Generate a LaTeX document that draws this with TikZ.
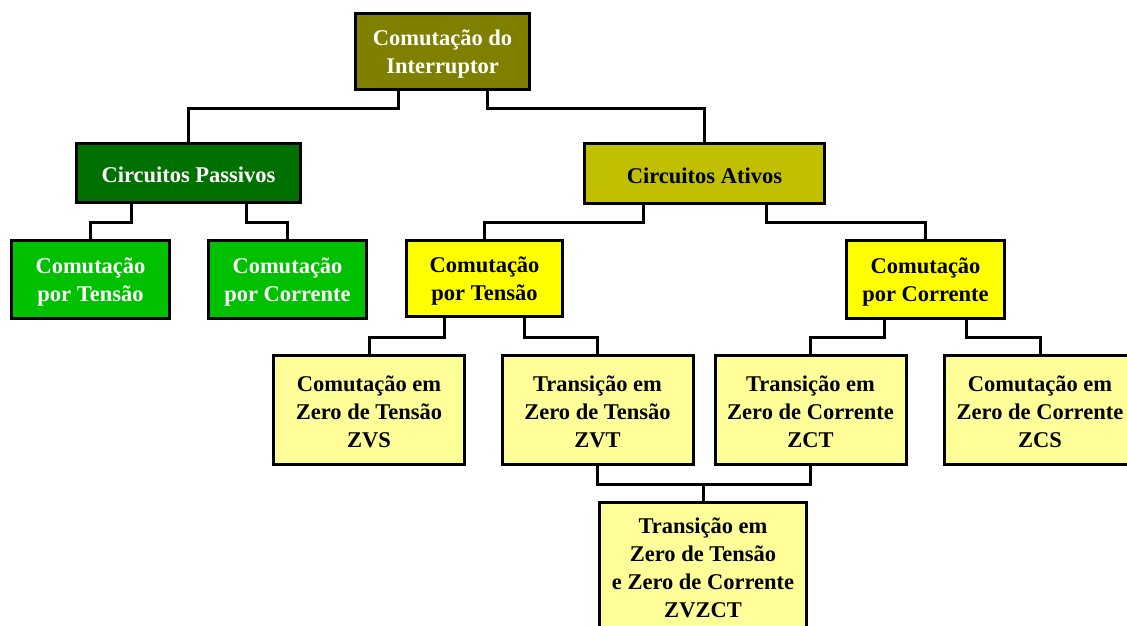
\documentclass[tikz,border=0pt]{standalone}
\usepackage{fontspec}
\setmainfont{Liberation Serif}
\usetikzlibrary{calc}
\definecolor{olivebox}{HTML}{808000}
\definecolor{darkgreenbox}{HTML}{007000}
\definecolor{greenbox}{HTML}{00C000}
\definecolor{ativobox}{HTML}{C0C000}
\definecolor{yellowbox}{HTML}{FFFF00}
\definecolor{lightbox}{HTML}{FFFF99}
\tikzset{
  box/.style={draw=black, line width=3pt, inner sep=0pt},
  txt/.style={inner sep=0pt, align=center,
    font=\fontsize{22.5}{28}\selectfont\bfseries},
  link/.style={draw=black, line width=3pt},
}
\begin{document}
\begin{tikzpicture}[x=1pt,y=-1pt]
\useasboundingbox (0,0) rectangle (1127,625);
\node[box, fill=olivebox, minimum width=174pt, minimum height=76pt] (top) at (442.5,51.5) {};
\node[txt, text=white] (ttop) at ($(top.center)+(0,3)$) {Comutação do\\Interruptor};
\node[box, fill=darkgreenbox, minimum width=224pt, minimum height=59pt] (pas) at (188.5,173) {};
\node[txt, text=white] (tpas) at ($(pas.center)+(0,2)$) {Circuitos Passivos};
\node[box, fill=ativobox, minimum width=240pt, minimum height=60pt] (ati) at (704.5,173.5) {};
\node[txt] (tati) at ($(ati.center)+(0,2)$) {Circuitos Ativos};
\node[box, fill=greenbox, minimum width=158pt, minimum height=78pt] (pt) at (90.5,279.5) {};
\node[txt, text=white] (tpt) at ($(pt.center)+(0,3)$) {Comutação\\por Tensão};
\node[box, fill=greenbox, minimum width=158pt, minimum height=78pt] (pc) at (287.5,279.5) {};
\node[txt, text=white] (tpc) at ($(pc.center)+(0,3)$) {Comutação\\por Corrente};
\node[box, fill=yellowbox, minimum width=156pt, minimum height=76pt] (at) at (484.5,278.5) {};
\node[txt] (tat) at ($(at.center)+(0,3)$) {Comutação\\por Tensão};
\node[box, fill=yellowbox, minimum width=158pt, minimum height=78pt] (ac) at (925.5,279.5) {};
\node[txt] (tac) at ($(ac.center)+(0,3)$) {Comutação\\por Corrente};
\node[box, fill=lightbox, minimum width=191pt, minimum height=109pt] (zvs) at (369,410) {};
\node[txt] (tzvs) at ($(zvs.center)+(0,2)$) {Comutação em\\Zero de Tensão\\ZVS};
\node[box, fill=lightbox, minimum width=191pt, minimum height=109pt] (zvt) at (597.5,410) {};
\node[txt] (tzvt) at ($(zvt.center)+(0,2)$) {Transição em\\Zero de Tensão\\ZVT};
\node[box, fill=lightbox, minimum width=191pt, minimum height=109pt] (zct) at (810.5,410) {};
\node[txt] (tzct) at ($(zct.center)+(0,2)$) {Transição em\\Zero de Corrente\\ZCT};
\node[box, fill=lightbox, minimum width=191pt, minimum height=109pt] (zcs) at (1040,410) {};
\node[txt] (tzcs) at ($(zcs.center)+(0,2)$) {Comutação em\\Zero de Corrente\\ZCS};
\node[box, fill=lightbox, minimum width=207pt, minimum height=130pt] (zz) at (703,567) {};
\node[txt] (tzz) at ($(zz.center)+(0,1)$) {Transição em\\Zero de Tensão\\e Zero de Corrente\\ZVZCT};
% connectors
\draw[link] ($(top.south)+(-44.5,0)$) -- ++(0,17) -| (pas.north);
\draw[link] ($(top.south)+(44.5,0)$) -- ++(0,17) -| (ati.north);
\draw[link] ($(pas.south)+(-57.5,0)$) -- ++(0,18) -| (pt.north);
\draw[link] ($(pas.south)+(57.5,0)$) -- ++(0,18) -| (pc.north);
\draw[link] ($(ati.south)+(-61.5,0)$) -- ++(0,17) -| (at.north);
\draw[link] ($(ati.south)+(61.5,0)$) -- ++(0,17) -| (ac.north);
\draw[link] ($(at.south)+(-40.5,0)$) -- ++(0,19) -| (zvs.north);
\draw[link] ($(at.south)+(39.5,0)$) -- ++(0,19) -| (zvt.north);
\draw[link] ($(ac.south)+(-41.5,0)$) -- ++(0,17) -| (zct.north);
\draw[link] ($(ac.south)+(40.5,0)$) -- ++(0,17) -| (zcs.north);
\draw[link] (zvt.south) -- ++(0,18) -| (zct.south);
\draw[link] (zz.north) -- ++(0,-17);
\end{tikzpicture}
\end{document}
